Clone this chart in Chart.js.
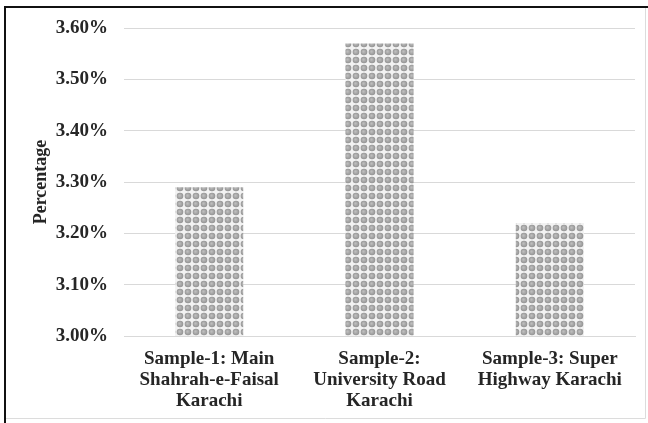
<!DOCTYPE html>
<html>
<head>
<meta charset="utf-8">
<script src="https://cdn.jsdelivr.net/npm/chart.js@4"></script>
<style>
  html, body { margin: 0; padding: 0; background: #ffffff; }
  #wrap { position: relative; width: 648px; height: 423px; }
  canvas { display: block; }
</style>
</head>
<body>
<div id="wrap"><canvas id="chart" width="648" height="423"></canvas></div>
<script>
// Sampling sites along the x axis (one array per label, one entry per line)
const categories = [
  ["Sample-1: Main", "Shahrah-e-Faisal", "Karachi"],
  ["Sample-2:", "University Road", "Karachi"],
  ["Sample-3: Super", "Highway Karachi"]
];
// Measured percentage for each site
const percentages = [3.29, 3.57, 3.22];
// Value axis range and step
const axisMin = 3.0;
const axisMax = 3.6;
const axisStep = 0.1;
const axisTitle = "Percentage";

const FONT = "'Liberation Serif', 'Times New Roman', serif";
const TEXT = "#262626";

// Dotted fill used for the bars
function dotPattern() {
  const size = 8;
  const c = document.createElement("canvas");
  c.width = size; c.height = size;
  const g = c.getContext("2d");
  g.fillStyle = "#f2f2f2";
  g.fillRect(0, 0, size, size);
  const grad = g.createRadialGradient(3.4, 3.4, 0.4, 4, 4, 3.6);
  grad.addColorStop(0, "#bdbdbd");
  grad.addColorStop(1, "#8f8f8f");
  g.fillStyle = grad;
  g.beginPath();
  g.arc(4, 4, 3.3, 0, Math.PI * 2);
  g.fill();
  return g.createPattern(c, "repeat");
}

// Outer frame: dark top/left edge, light right/bottom edge
const framePlugin = {
  id: "frame",
  afterDraw(chart) {
    const ctx = chart.ctx;
    ctx.save();
    ctx.strokeStyle = "#dcdcdc";
    ctx.lineWidth = 1;
    ctx.beginPath();
    ctx.moveTo(645.5, 8);
    ctx.lineTo(645.5, 418.5);
    ctx.lineTo(6, 418.5);
    ctx.stroke();
    ctx.strokeStyle = "#111111";
    ctx.lineWidth = 2;
    ctx.beginPath();
    ctx.moveTo(648, 7);
    ctx.lineTo(5, 7);
    ctx.lineTo(5, 423);
    ctx.stroke();
    ctx.restore();
  }
};

const ctx = document.getElementById("chart").getContext("2d");
new Chart(ctx, {
  type: "bar",
  data: {
    labels: categories,
    datasets: [{
      data: percentages,
      backgroundColor: dotPattern(),
      borderWidth: 0,
      barPercentage: 0.4,
      categoryPercentage: 1.0
    }]
  },
  options: {
    responsive: false,
    animation: false,
    devicePixelRatio: 1,
    layout: { padding: { top: 28, right: 13, left: 28, bottom: 0 } },
    plugins: {
      legend: { display: false },
      tooltip: { enabled: false }
    },
    scales: {
      x: {
        grid: { display: false, drawTicks: false },
        border: { display: true, color: "#d9d9d9", width: 1 },
        ticks: {
          color: TEXT,
          padding: 13,
          maxRotation: 0,
          autoSkip: false,
          font: { family: FONT, size: 19, weight: "bold", lineHeight: 1.1 }
        },
        afterFit(scale) { scale.height = 87; }
      },
      y: {
        min: axisMin,
        max: axisMax,
        grid: { color: "#d9d9d9", lineWidth: 1, drawTicks: false },
        border: { display: false },
        ticks: {
          stepSize: axisStep,
          color: TEXT,
          padding: 16,
          font: { family: FONT, size: 19, weight: "bold" },
          callback: (v) => Number(v).toFixed(2) + "%"
        },
        title: {
          display: true,
          text: axisTitle,
          color: TEXT,
          padding: { top: 3, bottom: 3 },
          font: { family: FONT, size: 18, weight: "bold" }
        },
        afterFit(scale) { scale.width = 96; }
      }
    }
  },
  plugins: [framePlugin]
});
</script>
</body>
</html>
